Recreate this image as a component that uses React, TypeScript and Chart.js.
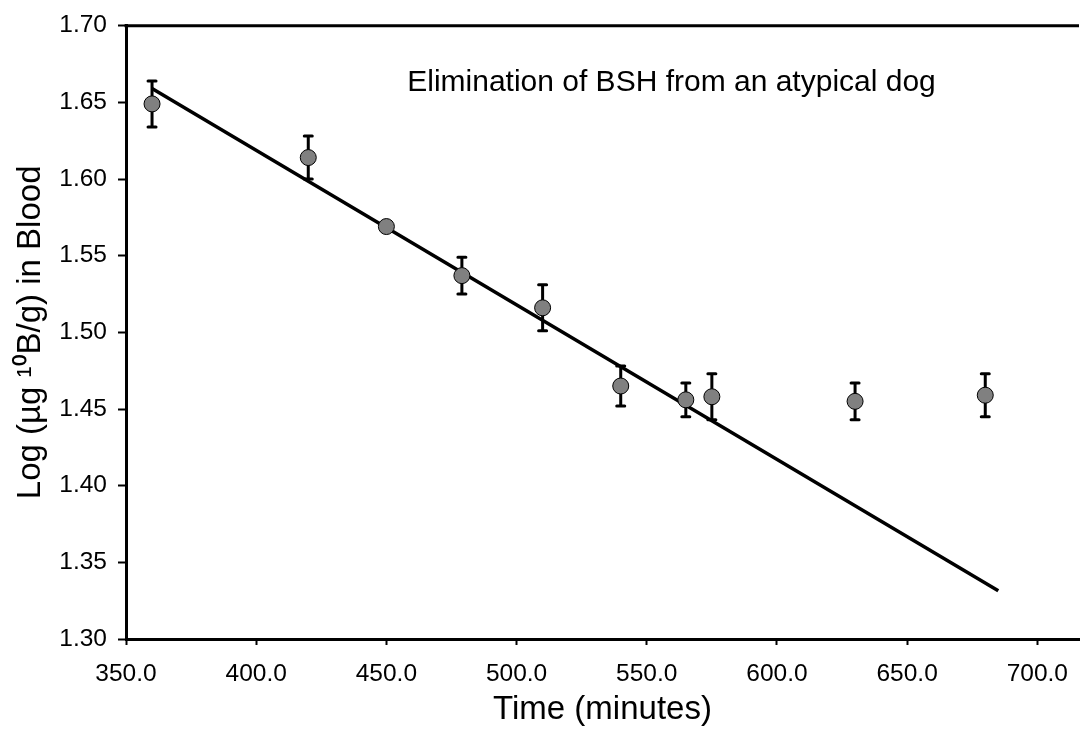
import React, { useEffect, useRef } from "react";
import { Chart, registerables } from "chart.js";

Chart.register(...registerables);

// ---- data ----
const timeMinutes = [360, 420, 450, 479, 510, 540, 565, 575, 630, 680];
const logBoron = [1.649, 1.614, 1.569, 1.537, 1.516, 1.465, 1.456, 1.458, 1.455, 1.459];
const errorSize = [0.015, 0.014, 0.003, 0.012, 0.015, 0.013, 0.011, 0.015, 0.012, 0.014];
const fitTimes = [360, 685];
const fitValues = [1.659, 1.3315];
const annotationText = "Elimination of BSH from an atypical dog";
const annotationAt = { x: 661, y: 1.6576 };
const xTitle = "Time (minutes)";
const yTitle = "Log (\u00B5g \u00B9\u2070B/g) in Blood";

const FONT = "'Liberation Sans', Arial, Helvetica, sans-serif";

const errorBarPlugin = {
  id: "errorBars",
  beforeDatasetsDraw(chart: any) {
    const { ctx, scales } = chart;
    const xs = scales.x;
    const ys = scales.y;
    ctx.save();
    ctx.strokeStyle = "#000";
    ctx.lineWidth = 3;
    ctx.lineCap = "round";
    for (let i = 0; i < timeMinutes.length; i++) {
      const px = xs.getPixelForValue(timeMinutes[i]);
      const top = ys.getPixelForValue(logBoron[i] + errorSize[i]);
      const bot = ys.getPixelForValue(logBoron[i] - errorSize[i]);
      ctx.beginPath();
      ctx.moveTo(px, top);
      ctx.lineTo(px, bot);
      ctx.moveTo(px - 4, top);
      ctx.lineTo(px + 4, top);
      ctx.moveTo(px - 4, bot);
      ctx.lineTo(px + 4, bot);
      ctx.stroke();
    }
    ctx.restore();
  },
};

const framePlugin = {
  id: "frameAndNote",
  afterDraw(chart: any) {
    const { ctx, chartArea, scales } = chart;
    ctx.save();
    ctx.strokeStyle = "#000";
    ctx.lineWidth = 3;
    ctx.beginPath();
    ctx.moveTo(chartArea.left - 1.5, chartArea.top);
    ctx.lineTo(chartArea.right, chartArea.top);
    ctx.stroke();
    ctx.fillStyle = "#000";
    ctx.font = `30px ${FONT}`;
    ctx.textAlign = "right";
    ctx.textBaseline = "alphabetic";
    ctx.fillText(
      annotationText,
      scales.x.getPixelForValue(annotationAt.x),
      scales.y.getPixelForValue(annotationAt.y)
    );
    ctx.restore();
  },
};

export default function App() {
  const ref = useRef<HTMLCanvasElement | null>(null);
  useEffect(() => {
    if (!ref.current) return;
    const chart = new Chart(ref.current, {
      type: "scatter",
      data: {
        datasets: [
          {
            label: "Measured",
            data: timeMinutes.map((t, i) => ({ x: t, y: logBoron[i] })),
            pointRadius: 8,
            pointBackgroundColor: "#808080",
            pointBorderColor: "#000",
            pointBorderWidth: 1,
            showLine: false,
            order: 0,
          },
          {
            label: "Fit",
            data: fitTimes.map((t, i) => ({ x: t, y: fitValues[i] })),
            showLine: true,
            borderColor: "#000",
            borderWidth: 3.5,
            pointRadius: 0,
            fill: false,
            order: 1,
          },
        ],
      },
      plugins: [errorBarPlugin, framePlugin],
      options: {
        animation: false,
        responsive: true,
        maintainAspectRatio: false,
        layout: { padding: { left: 0, right: 0, top: 17, bottom: 0 } },
        plugins: { legend: { display: false }, tooltip: { enabled: false } },
        scales: {
          x: {
            type: "linear",
            min: 350,
            max: 716,
            afterFit(scale: any) {
              scale.height = 92;
            },
            ticks: {
              stepSize: 50,
              includeBounds: false,
              color: "#000",
              font: { family: FONT, size: 24.5 },
              padding: 15,
              maxRotation: 0,
              callback: (v: any) => Number(v).toFixed(1),
            },
            grid: {
              drawOnChartArea: false,
              color: "#000",
              tickLength: 6,
              tickWidth: 2,
            },
            border: { display: true, color: "#000", width: 3 },
            title: {
              display: true,
              text: xTitle,
              color: "#000",
              font: { family: FONT, size: 33 },
              padding: { top: 0, bottom: 1 },
            },
          },
          y: {
            type: "linear",
            min: 1.3,
            max: 1.7,
            afterFit(scale: any) {
              scale.width = 126;
            },
            ticks: {
              stepSize: 0.05,
              color: "#000",
              font: { family: FONT, size: 24.5 },
              padding: 11,
              callback: (v: any) => Number(v).toFixed(2),
            },
            grid: {
              drawOnChartArea: false,
              color: "#000",
              tickLength: 8,
              tickWidth: 2,
            },
            border: { display: true, color: "#000", width: 3 },
            title: {
              display: true,
              text: yTitle,
              color: "#000",
              font: { family: FONT, size: 33 },
              padding: { top: 11, bottom: 0 },
            },
          },
        },
      },
    });
    return () => chart.destroy();
  }, []);
  return (
    <div style={{ position: "absolute", left: 0, top: 0, width: 1088, height: 731, background: "#fff" }}>
      <canvas ref={ref} />
    </div>
  );
}
